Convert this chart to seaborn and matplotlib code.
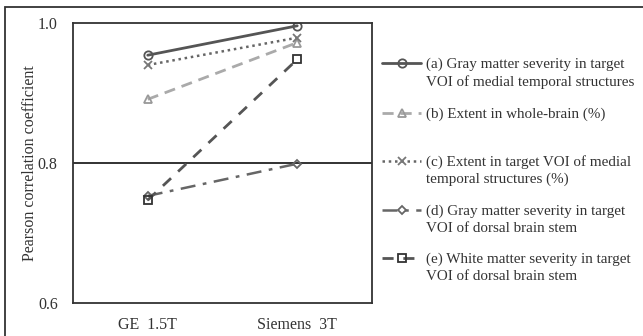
import matplotlib
matplotlib.use("Agg")
import matplotlib.pyplot as plt
import seaborn as sns
import pandas as pd

sns.set_theme(style="white")
plt.rcParams['font.family'] = ['Liberation Serif', 'DejaVu Serif']

scanners = ["GE  1.5T", "Siemens  3T"]
series_labels = [
    "(a) Gray matter severity in target\nVOI of medial temporal structures",
    "(b) Extent in whole-brain (%)\n ",
    "(c) Extent in target VOI of medial\ntemporal structures (%)",
    "(d) Gray matter severity in target\nVOI of dorsal brain stem",
    "(e) White matter severity in target\nVOI of dorsal brain stem",
]
vals_a = [0.954, 0.996]
vals_b = [0.891, 0.972]
vals_c = [0.940, 0.979]
vals_d = [0.753, 0.799]
vals_e = [0.747, 0.948]
yticks = [0.6, 0.8, 1.0]

styles = [
    dict(color="#555555", linestyle="-", marker="o", lw=2.0, ms=6, mec="#555555"),
    dict(color="#aaaaaa", linestyle=(0, (4, 2.5)), marker="^", lw=2.0, ms=6, mec="#999999"),
    dict(color="#666666", linestyle=(0, (1, 1.5)), marker="x", lw=1.8, ms=6, mec="#777777"),
    dict(color="#666666", linestyle=(0, (6, 3, 1.5, 3)), marker="D", lw=1.8, ms=4.5, mec="#666666"),
    dict(color="#555555", linestyle=(0, (4, 3.5)), marker="s", lw=2.0, ms=5.5, mec="#333333"),
]

fig = plt.figure(figsize=(6.43, 3.36), dpi=100)
ax = fig.add_axes([73/643, 1-303/336, (372-73)/643, (303-23)/336])

all_vals = [vals_a, vals_b, vals_c, vals_d, vals_e]
handles = []
for vals, lab, st in zip(all_vals, series_labels, styles):
    df = pd.DataFrame({"x": [0, 1], "y": vals})
    n_before = len(ax.lines)
    sns.lineplot(data=df, x="x", y="y", ax=ax, color=st["color"], lw=st["lw"],
                 marker=st["marker"], markersize=st["ms"], label=lab,
                 markerfacecolor="none" if st["marker"] != "x" else st["mec"],
                 markeredgecolor=st["mec"], markeredgewidth=1.3)
    line = ax.lines[n_before]
    line.set_linestyle(st["linestyle"])
    handles.append(line)

ax.axhline(0.8, color="#222222", lw=1.3, zorder=0)
ax.set_xlim(-0.5, 1.5)
ax.set_ylim(0.6, 1.0)
ax.set_xticks([0, 1])
ax.set_xticklabels(scanners)
ax.set_yticks(yticks)
ax.set_yticklabels([f"{t:.1f}" for t in yticks])
ax.tick_params(axis="both", length=0, labelsize=11.5, colors="#333333")
ax.tick_params(axis="x", pad=10)
ax.tick_params(axis="y", pad=11)
ax.set_xlabel("")
ax.set_ylabel("Pearson correlation coefficient", fontsize=11.5, color="#333333", labelpad=0)
for sp in ax.spines.values():
    sp.set_color("#333333")
    sp.set_linewidth(1.3)
    sp.set_visible(True)
ax.get_legend().remove()

leg = fig.legend(handles, series_labels, loc="upper left",
                 bbox_to_anchor=(382/643, 1-58/336), frameon=False,
                 fontsize=10.9, handlelength=2.6, handletextpad=0.3,
                 labelspacing=1.2, borderpad=0, borderaxespad=0)
for t in leg.get_texts():
    t.set_color("#333333")
    t.set_linespacing(1.35)
for hp in leg._legend_handle_box.get_children()[0].get_children():
    hp.align = "top"

frame = plt.Rectangle((5/643, -0.2), 1.2, 1.2 - 7/336, transform=fig.transFigure,
                      fill=False, ec="#333333", lw=1.3)
fig.patches.append(frame)

fig.savefig("out.png", dpi=100)
